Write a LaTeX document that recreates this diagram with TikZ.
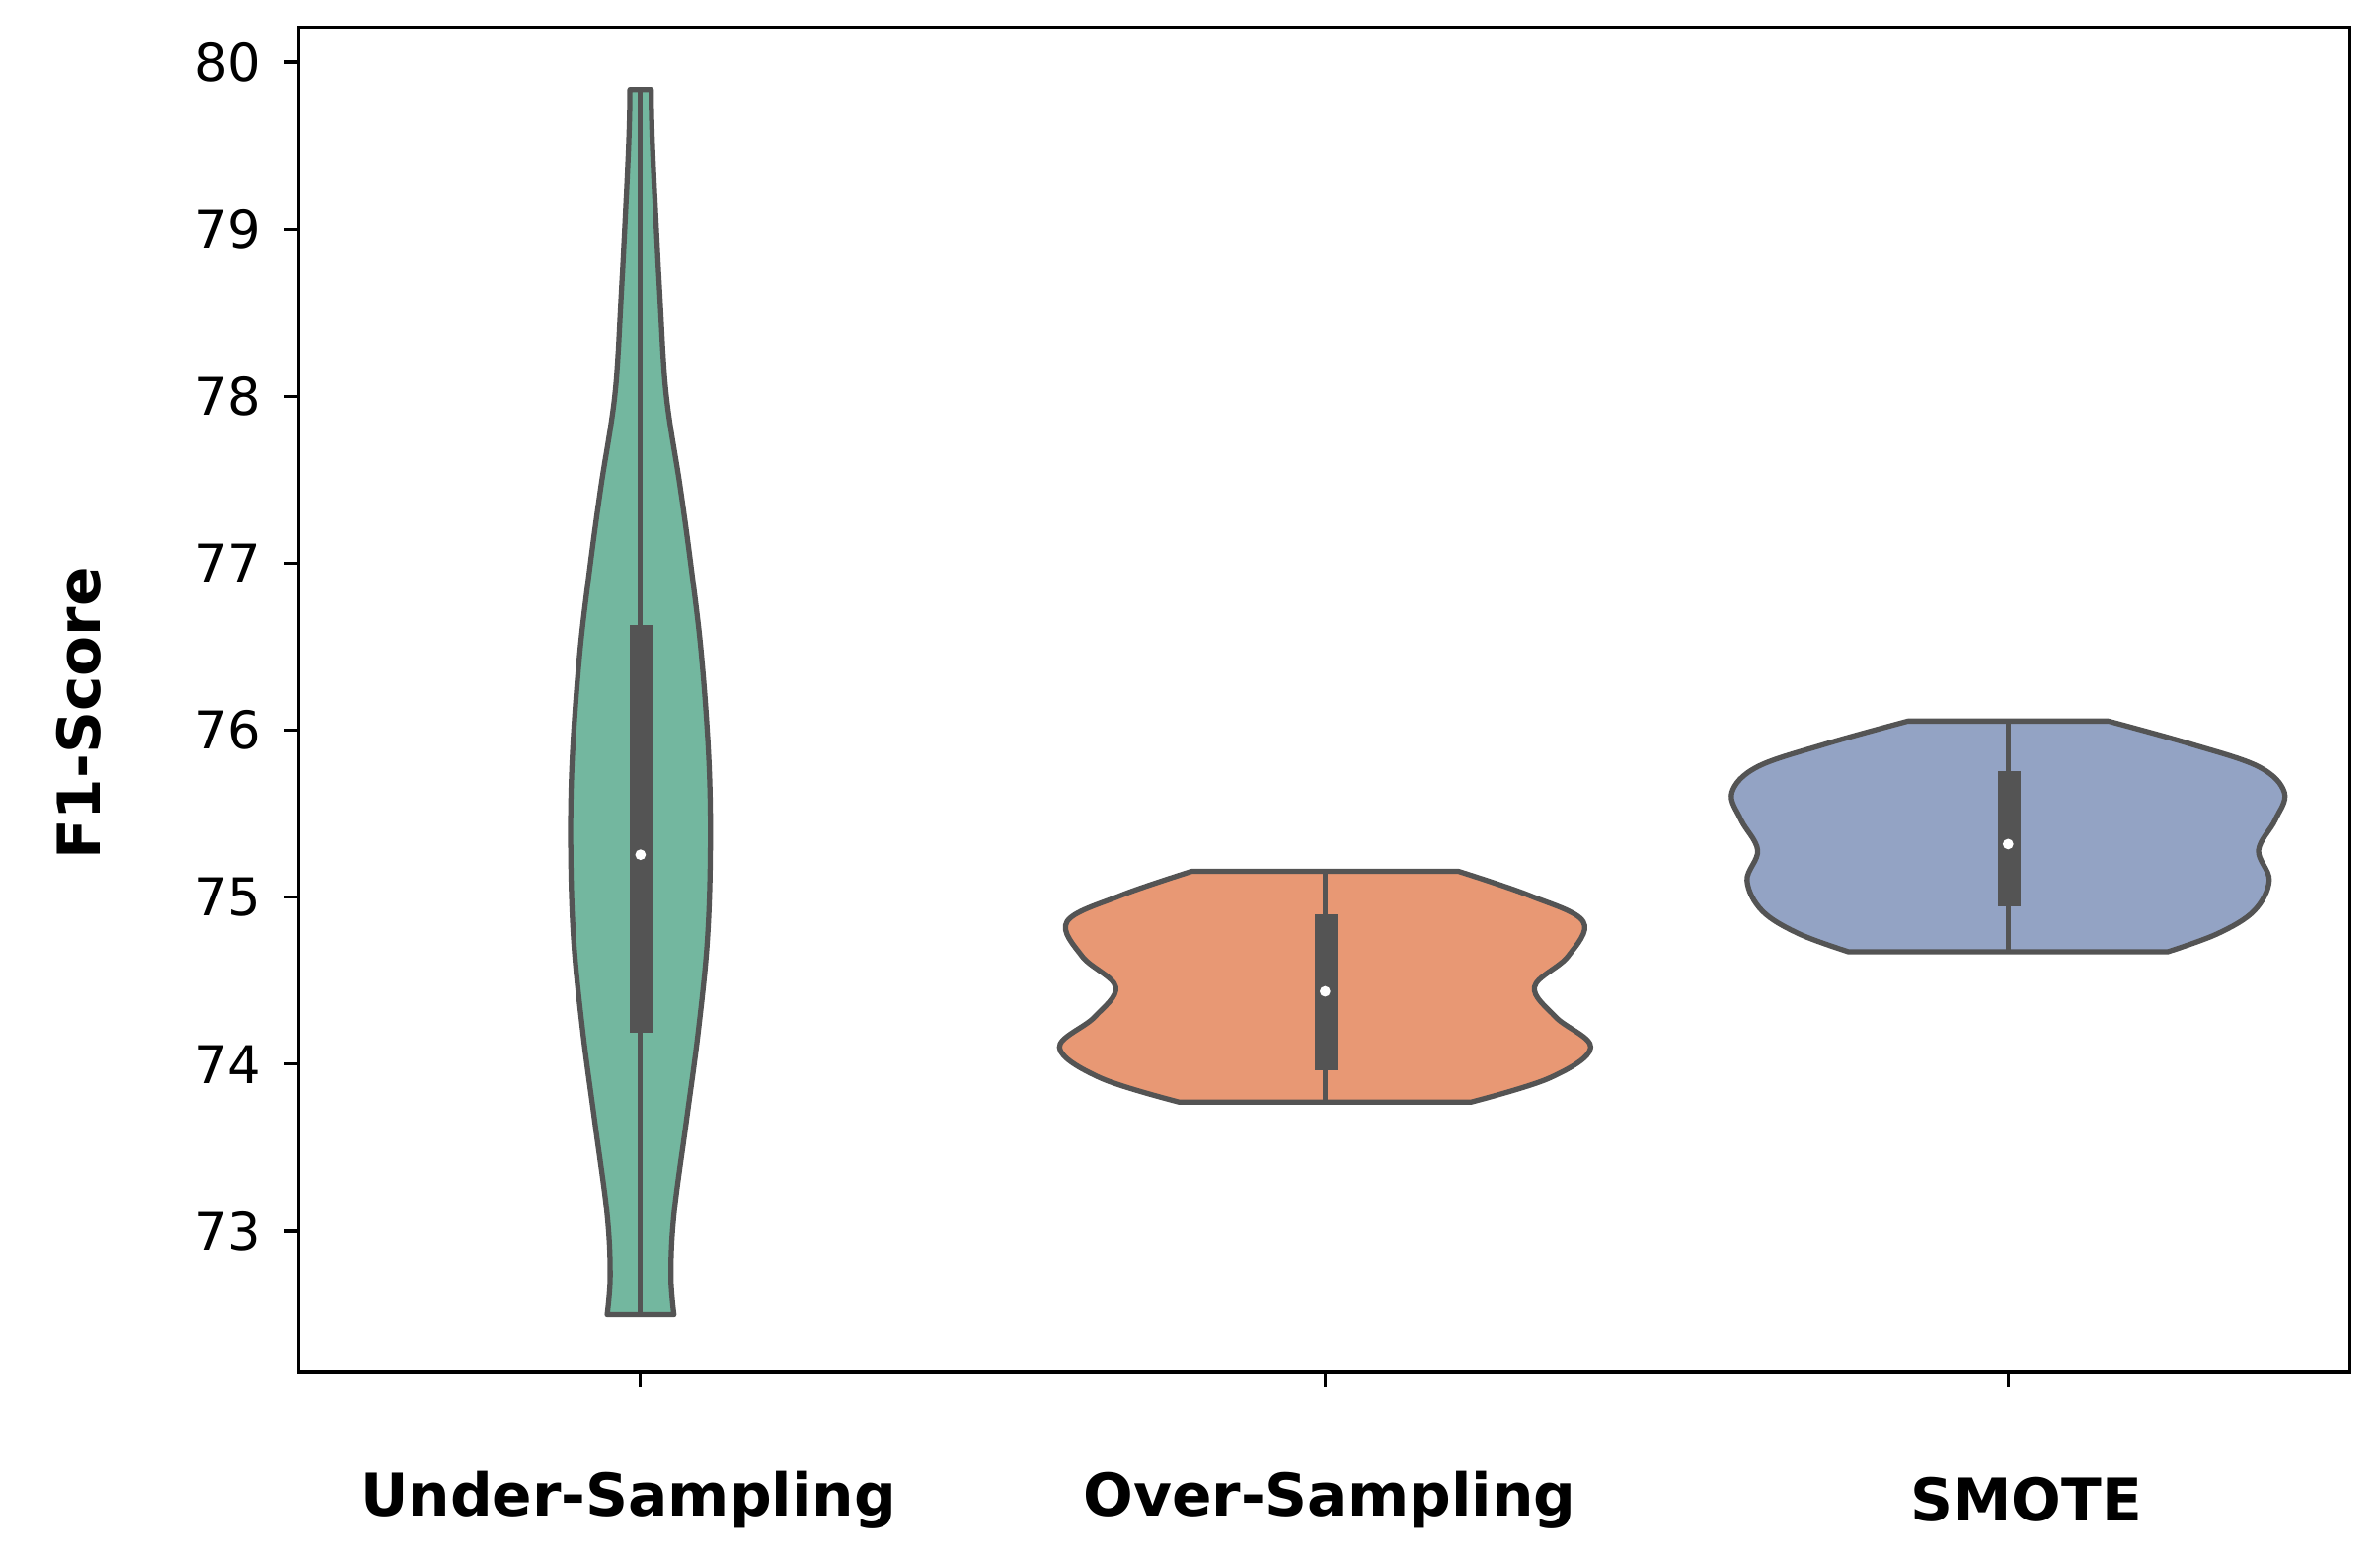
\documentclass[tikz,border=0pt]{standalone}
\usepackage{fontspec}
\setmainfont{DejaVu Sans}
\begin{document}
\begin{tikzpicture}[x=0.015376cm,y=-0.015376cm,
 vio/.style={draw=black!67,line width=1.5pt,line join=round},
 bx/.style={fill=black!67,draw=none},
 tick/.style={font=\fontsize{15}{18}\selectfont,anchor=east},
 cat/.style={font=\bfseries\fontsize{17}{20}\selectfont}]
\useasboundingbox (0,0) rectangle (1568,1026);
% violins
\draw[vio,fill={rgb,255:red,115;green,183;blue,159}] (415,59) -- plot[smooth,tension=0.6] coordinates {(415,59)(414,100)(409,200)(405,261)(396,320)(389,371)(382,430)(377,500)(376,560)(378,620)(384,680)(392,740)(400,800)(402,840)(400,866)} -- (444,866) -- plot[smooth,tension=0.6] coordinates {(444,866)(442,840)(444,800)(452,740)(460,680)(466,620)(468,560)(467,500)(462,430)(455,371)(448,320)(439,261)(435,200)(430,100)(429,59)} -- cycle;
\draw[vio,fill={rgb,255:red,232;green,152;blue,116}] (785,574) -- plot[smooth,tension=0.6] coordinates {(785,574)(738,590)(703,607)(713,630)(735,650)(721,670)(698,690)(725,710)(777,726)} -- (969,726) -- plot[smooth,tension=0.6] coordinates {(969,726)(1021,710)(1048,690)(1025,670)(1011,650)(1033,630)(1043,607)(1008,590)(961,574)} -- cycle;
\draw[vio,fill={rgb,255:red,147;green,163;blue,196}] (1257,475) -- plot[smooth,tension=0.6] coordinates {(1257,475)(1203,490)(1158,505)(1141,522)(1147,540)(1158,560)(1151,580)(1161,600)(1185,615)(1218,627)} -- (1428,627) -- plot[smooth,tension=0.6] coordinates {(1428,627)(1461,615)(1485,600)(1495,580)(1488,560)(1499,540)(1505,522)(1488,505)(1443,490)(1389,475)} -- cycle;
% whiskers
\draw[black!67,line width=1.4pt] (422,59) -- (422,866);
\draw[black!67,line width=1.4pt] (873,574) -- (873,726);
\draw[black!67,line width=1.4pt] (1323,475) -- (1323,627);
% boxes
\fill[bx] (415,412) rectangle (430,680);
\fill[bx] (866,602) rectangle (881,705);
\fill[bx] (1316,508) rectangle (1331,597);
\fill[white] (422,563) circle (3.5);
\fill[white] (873,653) circle (3.5);
\fill[white] (1323,556) circle (3.5);
% axes
\draw[line width=0.9pt] (197,18) rectangle (1548,904);
\foreach \v in {73,...,80}{
  \draw[line width=0.9pt] (197,{41+(80-\v)*110}) -- (187,{41+(80-\v)*110});
  \node[tick] (t\v) at (180,{41+(80-\v)*110}) {\v};}
\foreach \xx/\lx/\lab/\n in {422/414/Under-Sampling/a,873/876/Over-Sampling/b,1323/1335/SMOTE/c}{
  \draw[line width=0.9pt] (\xx,904) -- (\xx,914);
  \node[cat] (\n) at (\lx,988) {\lab};}
\node[cat,rotate=90] (yl) at (52,470) {F1-Score};
\end{tikzpicture}
\end{document}
